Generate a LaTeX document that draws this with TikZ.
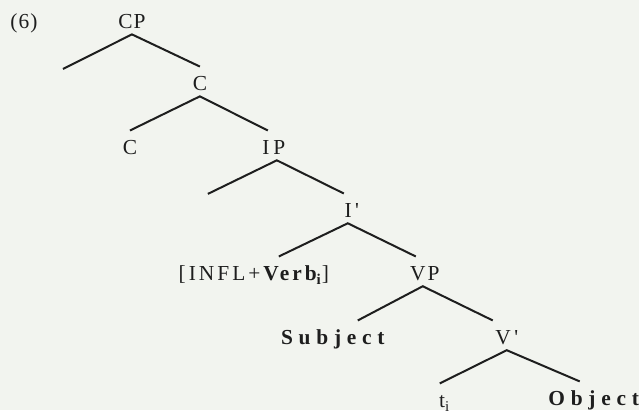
\documentclass[tikz,border=0pt]{standalone}
\usepackage{fontspec}
\setmainfont{Liberation Serif}[LetterSpace=5]
\definecolor{paper}{RGB}{242,244,239}
\definecolor{ink}{RGB}{30,30,30}
\tikzset{
  lab/.style={inner sep=0pt, anchor=base, text height=12pt, text depth=2.5pt,
    text=ink, font=\fontsize{10.7}{12}\selectfont},
  loose/.style={lab, font=\fontsize{10.7}{12}\selectfont\addfontfeature{LetterSpace=14}},
  wide/.style={lab, font=\fontsize{10.7}{12}\selectfont\bfseries\addfontfeature{LetterSpace=27}},
  br/.style={draw=ink, line width=1pt}
}
\begin{document}
\begin{tikzpicture}[x=0.5pt,y=-0.5pt]
\fill[paper] (0,0) rectangle (639,410);
% labels
\node[lab] (ex) at (24,29) {(6)};
\node[lab] (cp) at (132,29) {CP};
\node[lab] (cbar) at (200,91) {C};
\node[lab] (c) at (130,155) {C};
\node[lab] (ip) at (274,155) {I\kern2pt P};
\node[lab] (ibar) at (352,218) {I\,\textquotesingle};
\node[loose] (infl) at (254,281) {[INFL+\textbf{Verb\textsubscript{i}}]};
\node[lab] (vp) at (425,281) {V\kern1pt P};
\node[wide] (subj) at (333,345) {Subject};
\node[lab] (vbar) at (507,345) {V\,\textquotesingle};
\node[lab] (t) at (445,408) {t\textsubscript{i}};
\node[wide] (obj) at (594,406) {Object};
\coordinate (cp-l) at (63,69);
\coordinate (ip-l) at (208,194);
% branches
\draw[br] (cp-l) -- (cp.south) -- (cbar.north);
\draw[br] (c.north) -- (cbar.south) -- ([xshift=-3pt]ip.north);
\draw[br] (ip-l) -- ([xshift=1.5pt]ip.south) -- ([xshift=-4pt]ibar.north);
\draw[br] ([xshift=12.5pt]infl.north) -- ([xshift=-2pt]ibar.south) -- ([xshift=-4.5pt]vp.north);
\draw[br] ([xshift=12.5pt]subj.north) -- ([xshift=-1pt]vp.south) -- ([xshift=-7pt]vbar.north);
\draw[br] ([xshift=-2.5pt]t.north) -- (vbar.south) -- ([xshift=-7pt]obj.north);
\end{tikzpicture}
\end{document}
